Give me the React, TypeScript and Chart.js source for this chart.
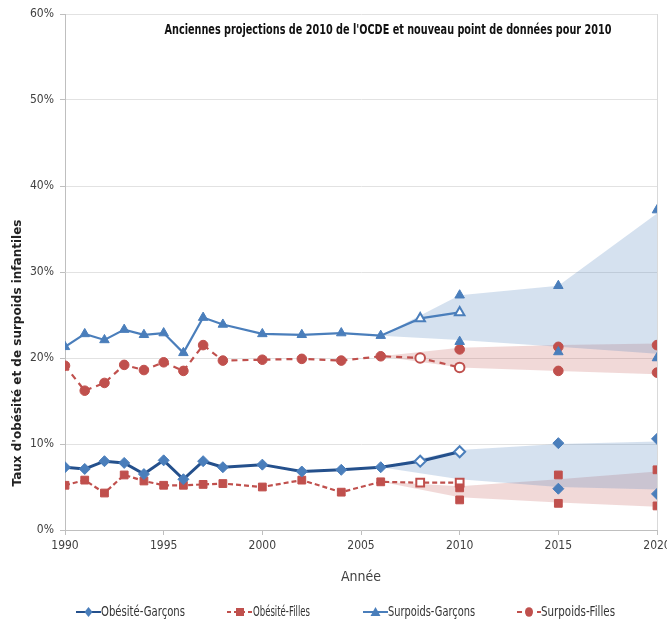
import { useEffect, useRef } from "react";
import { Chart, registerables } from "chart.js";

Chart.register(...registerables);

// Observed series (percent), one value per survey year
const years = [1990, 1991, 1992, 1993, 1994, 1995, 1996, 1997, 1998, 2000, 2002, 2004, 2006, 2008, 2010];
const obesiteGarcons = [7.3, 7.1, 8.0, 7.8, 6.5, 8.1, 5.9, 8.0, 7.3, 7.6, 6.8, 7.0, 7.3, 8.0, 9.1];
const obesiteFilles = [5.2, 5.8, 4.3, 6.4, 5.7, 5.2, 5.2, 5.3, 5.4, 5.0, 5.8, 4.4, 5.6, 5.5, 5.5];
const surpoidsGarcons = [21.3, 22.8, 22.1, 23.3, 22.7, 22.9, 20.6, 24.7, 23.9, 22.8, 22.7, 22.9, 22.6, 24.6, 25.3];
const surpoidsFilles = [19.1, 16.2, 17.1, 19.2, 18.6, 19.5, 18.5, 21.5, 19.7, 19.8, 19.9, 19.7, 20.2, 20.0, 18.9];

// Old projections (isolated markers)
const ogProjYears = [2015, 2015, 2020, 2020];
const ogProjValues = [10.1, 4.8, 10.6, 4.2];
const ofProjYears = [2010, 2010, 2015, 2015, 2020, 2020];
const ofProjValues = [4.9, 3.5, 6.4, 3.1, 7.0, 2.8];
const sgProjYears = [2010, 2010, 2015, 2015, 2020, 2020];
const sgProjValues = [27.3, 21.9, 28.4, 20.7, 37.2, 20.0];
const sfProjYears = [2010, 2015, 2015, 2020, 2020];
const sfProjValues = [21.0, 21.3, 18.5, 21.5, 18.3];

// Projection ranges (shaded bands)
const bandYears = [2006, 2010, 2015, 2020];
const sgBandUpper = [22.6, 27.3, 28.4, 36.8];
const sgBandLower = [22.6, 22.1, 21.3, 20.5];
const sfBandUpper = [20.2, 21.2, 21.5, 21.7];
const sfBandLower = [20.2, 18.9, 18.5, 18.1];
const ogBandUpper = [7.3, 9.3, 10.0, 10.3];
const ogBandLower = [7.3, 5.9, 5.0, 4.7];
const ofBandUpper = [5.6, 5.1, 5.9, 6.8];
const ofBandLower = [5.6, 3.8, 3.2, 2.7];

const seriesLabels = ["Obésité-Garçons", "Obésité-Filles", "Surpoids-Garçons", "Surpoids-Filles"];
const chartTitle = "Anciennes projections de 2010 de l'OCDE et nouveau point de données pour 2010";
const yTitle = "Taux d'obésité et de surpoids infantiles";
const xTitle = "Année";

const BLUE = "#4A7EBB";
const NAVY = "#24508C";
const RED = "#C0504D";
const FONT = "'Liberation Sans Narrow', 'DejaVu Sans Condensed', 'Open Sans', sans-serif";

const pts = (xs: number[], ys: number[]) => xs.map((x, i) => ({ x, y: ys[i] }));

const hollowLast = (color: string) => years.map((_, i) => (i >= years.length - 2 ? "#ffffff" : color));
const borderLast = (w: number) => years.map((_, i) => (i >= years.length - 2 ? 2 : w));

function mainLine(label: string, values: number[], marker: string, lineColor: string, markerColor: string, dash: number[], radius: number, width: number) {
  return {
    type: "line" as const,
    label,
    data: pts(years, values),
    borderColor: lineColor,
    borderWidth: width,
    borderDash: dash,
    pointStyle: marker,
    pointRadius: radius,
    pointBackgroundColor: hollowLast(markerColor),
    pointBorderColor: markerColor,
    pointBorderWidth: borderLast(1),
    tension: 0,
    fill: false,
    order: 1,
  };
}

function projection(xs: number[], ys: number[], marker: string, color: string, radius: number) {
  return {
    type: "line" as const,
    label: "",
    data: pts(xs, ys),
    showLine: false,
    pointStyle: marker,
    pointRadius: radius,
    pointBackgroundColor: color,
    pointBorderColor: color,
    pointBorderWidth: 1,
    fill: false,
    order: 0,
  };
}

function band(upper: number[], lower: number[], color: string) {
  return [
    {
      type: "line" as const,
      label: "",
      data: pts(bandYears, upper),
      borderColor: "transparent",
      borderWidth: 0,
      pointRadius: 0,
      backgroundColor: color,
      fill: "+1",
      tension: 0,
      order: 5,
    },
    {
      type: "line" as const,
      label: "",
      data: pts(bandYears, lower),
      borderColor: "transparent",
      borderWidth: 0,
      pointRadius: 0,
      fill: false,
      tension: 0,
      order: 5,
    },
  ];
}

function drawMarker(ctx: CanvasRenderingContext2D, style: string, x: number, y: number, color: string) {
  ctx.fillStyle = color;
  ctx.beginPath();
  if (style === "rectRot") {
    ctx.moveTo(x, y - 5);
    ctx.lineTo(x + 4, y);
    ctx.lineTo(x, y + 5);
    ctx.lineTo(x - 4, y);
    ctx.closePath();
  } else if (style === "rect") {
    ctx.rect(x - 4, y - 4, 8, 8);
  } else if (style === "triangle") {
    ctx.moveTo(x, y - 5);
    ctx.lineTo(x + 5, y + 4);
    ctx.lineTo(x - 5, y + 4);
    ctx.closePath();
  } else {
    ctx.ellipse(x, y, 4, 4.8, 0, 0, Math.PI * 2);
  }
  ctx.fill();
}

// Title inside the plot, rotated y title, right frame and bottom legend
const decorPlugin = {
  id: "decor",
  beforeDatasetsDraw(chart: any) {
    const { ctx, chartArea: a } = chart;
    ctx.save();
    ctx.strokeStyle = "#d9d9d9";
    ctx.lineWidth = 1;
    ctx.beginPath();
    ctx.moveTo(Math.round(a.right) + 0.5, a.top);
    ctx.lineTo(Math.round(a.right) + 0.5, a.bottom);
    ctx.stroke();
    ctx.restore();
  },
  afterDraw(chart: any) {
    const { ctx, chartArea: a } = chart;
    ctx.save();
    // plot title
    ctx.fillStyle = "#111111";
    ctx.font = `bold 14px ${FONT}`;
    ctx.textAlign = "center";
    ctx.textBaseline = "middle";
    ctx.fillText(chartTitle, 388, a.top + 16, 447);

    // y axis title
    ctx.save();
    ctx.translate(18, 353);
    ctx.rotate(-Math.PI / 2);
    ctx.font = "bold 12px 'DejaVu Sans', sans-serif";
    ctx.fillStyle = "#222222";
    ctx.fillText(yTitle, 0, 0, 322);
    ctx.restore();

    // legend
    const items = [
      { x0: 76, x1: 101, tx: 101, tw: 84, color: NAVY, marker: "rectRot", mcolor: BLUE, dash: [] as number[] },
      { x0: 227, x1: 253, tx: 253, tw: 57, color: RED, marker: "rect", mcolor: RED, dash: [4, 3] },
      { x0: 363, x1: 388, tx: 388, tw: 87, color: BLUE, marker: "triangle", mcolor: BLUE, dash: [] as number[] },
      { x0: 517, x1: 541, tx: 541, tw: 74, color: RED, marker: "circle", mcolor: RED, dash: [5, 5] },
    ];
    const ly = 612;
    items.forEach((it, i) => {
      ctx.strokeStyle = it.color;
      ctx.lineWidth = 2;
      ctx.setLineDash(it.dash);
      ctx.beginPath();
      ctx.moveTo(it.x0, ly);
      ctx.lineTo(it.x1, ly);
      ctx.stroke();
      ctx.setLineDash([]);
      drawMarker(ctx, it.marker, (it.x0 + it.x1) / 2, ly, it.mcolor);
      ctx.fillStyle = "#333333";
      ctx.font = `14px ${FONT}`;
      ctx.textAlign = "left";
      ctx.textBaseline = "middle";
      ctx.fillText(seriesLabels[i], it.tx, ly, it.tw);
    });
    ctx.restore();
  },
};

export default function App() {
  const canvasRef = useRef<HTMLCanvasElement | null>(null);

  useEffect(() => {
    document.body.style.margin = "0";
    const canvas = canvasRef.current;
    if (!canvas) return;

    const datasets: any[] = [
      mainLine(seriesLabels[0], obesiteGarcons, "rectRot", NAVY, BLUE, [], 5.5, 3),
      mainLine(seriesLabels[1], obesiteFilles, "rect", RED, RED, [5, 3], 5.5, 2.2),
      mainLine(seriesLabels[2], surpoidsGarcons, "triangle", BLUE, BLUE, [], 5.5, 2.2),
      mainLine(seriesLabels[3], surpoidsFilles, "circle", RED, RED, [6, 5], 4.8, 2.2),
      projection(ogProjYears, ogProjValues, "rectRot", BLUE, 5.5),
      projection(ofProjYears, ofProjValues, "rect", RED, 5.5),
      projection(sgProjYears, sgProjValues, "triangle", BLUE, 5.5),
      projection(sfProjYears, sfProjValues, "circle", RED, 4.8),
      ...band(sgBandUpper, sgBandLower, "rgba(79,129,189,0.24)"),
      ...band(sfBandUpper, sfBandLower, "rgba(192,80,77,0.22)"),
      ...band(ogBandUpper, ogBandLower, "rgba(79,129,189,0.24)"),
      ...band(ofBandUpper, ofBandLower, "rgba(192,80,77,0.22)"),
    ];

    const chart = new Chart(canvas, {
      type: "line",
      data: { datasets },
      plugins: [decorPlugin],
      options: {
        animation: false,
        responsive: false,
        devicePixelRatio: 1,
        events: [],
        layout: { padding: { top: 14, left: 0, right: 10, bottom: 36 } },
        plugins: {
          legend: { display: false },
          tooltip: { enabled: false },
          title: { display: false },
        },
        scales: {
          x: {
            type: "linear",
            min: 1990,
            max: 2020,
            ticks: {
              stepSize: 5,
              color: "#404040",
              font: { family: FONT, size: 12 },
              padding: 4,
              maxRotation: 0,
              callback: (v: any) => String(v),
            },
            grid: {
              drawOnChartArea: false,
              tickLength: 5,
              tickColor: "#bfbfbf",
            },
            border: { color: "#bfbfbf", width: 1 },
            title: {
              display: true,
              text: xTitle,
              color: "#404040",
              font: { family: FONT, size: 14 },
              padding: { top: 0, bottom: 4 },
            },
            afterFit: (s: any) => {
              s.height = 60;
              s.paddingLeft = 0;
              s.paddingRight = 0;
            },
          },
          y: {
            min: 0,
            max: 60,
            ticks: {
              stepSize: 10,
              color: "#404040",
              font: { family: FONT, size: 12 },
              padding: 6,
              callback: (v: any) => `${v}%`,
            },
            grid: {
              color: "#e2e2e2",
              tickLength: 5,
              tickColor: "#bfbfbf",
            },
            border: { color: "#bfbfbf", width: 1 },
            afterFit: (s: any) => {
              s.width = 65;
            },
          },
        },
      },
    } as any);

    return () => chart.destroy();
  }, []);

  return (
    <div style={{ width: 667, height: 626, background: "#ffffff" }}>
      <canvas ref={canvasRef} width={667} height={626} style={{ display: "block" }} />
    </div>
  );
}
